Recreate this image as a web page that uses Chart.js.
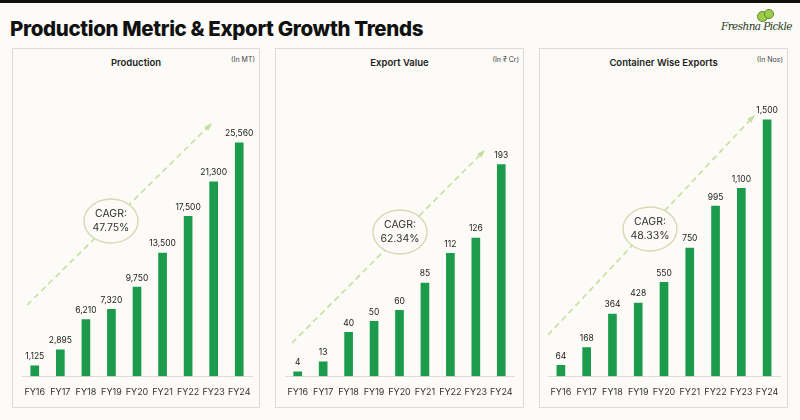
<!DOCTYPE html>
<html>
<head>
<meta charset="utf-8">
<script src="https://cdn.jsdelivr.net/npm/chart.js@4.4.1/dist/chart.umd.min.js"></script>
<style>
  html, body { margin:0; padding:0; }
  body { width:800px; height:420px; background:#fcfbf7; position:relative; overflow:hidden; font-family:Inter, "Noto Sans", sans-serif; }
  .topbar { position:absolute; left:0; top:0; width:800px; height:3px; background:#111; }
  .title { position:absolute; left:10px; top:16px; font-size:20.5px; font-weight:800; color:#111; letter-spacing:-0.35px; }
  .logo { position:absolute; left:721px; top:6px; width:76px; height:40px; }
  .logo .txt { position:absolute; left:0; top:14px; font-family:"DejaVu Serif", serif; font-style:italic; font-size:10.5px; color:#2a3a22; letter-spacing:-0.6px; white-space:nowrap; }
  .logo .c1, .logo .c2 { position:absolute; border-radius:50%; background:#9ccc4a; border:1px solid #5a8a2a; }
  .logo .c1 { left:36px; top:5px; width:9px; height:9px; }
  .logo .c2 { left:43px; top:3px; width:8px; height:8px; }
  .panel { position:absolute; top:48px; height:358px; border:1px solid #dcdcd5; background:#fcfbf7; }
  .panel canvas { position:absolute; left:0; top:0; }
  .ptitle { position:absolute; top:8px; left:0; width:100%; text-align:center; font-size:9.5px; font-weight:600; color:#222; }
  .unit { position:absolute; top:6px; right:4px; font-size:7px; color:#444; }
</style>
</head>
<body>
<div class="topbar"></div>
<div class="title">Production Metric &amp; Export Growth Trends</div>
<div class="logo"><div class="c1"></div><div class="c2"></div><div class="txt">Freshna Pickle</div></div>

<div class="panel" style="left:12px;width:246px;">
  <div class="ptitle">Production</div><div class="unit">(In MT)</div>
  <div style="position:absolute;left:0;top:0;width:246px;height:358px;"><canvas id="c1"></canvas></div>
</div>
<div class="panel" style="left:275px;width:247px;">
  <div class="ptitle">Export Value</div><div class="unit">(In ₹ Cr)</div>
  <div style="position:absolute;left:0;top:0;width:247px;height:358px;"><canvas id="c2"></canvas></div>
</div>
<div class="panel" style="left:539px;width:247px;">
  <div class="ptitle">Container Wise Exports</div><div class="unit">(In Nos)</div>
  <div style="position:absolute;left:0;top:0;width:247px;height:358px;"><canvas id="c3"></canvas></div>
</div>

<script>
// ---- data ----
const years = ["FY16","FY17","FY18","FY19","FY20","FY21","FY22","FY23","FY24"];
const production = [1125, 2895, 6210, 7320, 9750, 13500, 17500, 21300, 25560];
const exportValue = [4, 13, 40, 50, 60, 85, 112, 126, 193];
const containers = [64, 168, 364, 428, 550, 750, 995, 1100, 1500];
const cagrLabels = ["47.75%", "62.34%", "48.33%"];

const barGreen = "#1b9b4b";
const arrowGreen = "#c4e09c";

// value labels above bars
const barValues = {
  id: "barValues",
  afterDatasetsDraw(chart) {
    const ctx = chart.ctx;
    const meta = chart.getDatasetMeta(0);
    const vals = chart.data.datasets[0].data;
    ctx.save();
    ctx.font = "8.5px Inter, sans-serif";
    ctx.fillStyle = "#222";
    ctx.textAlign = "center";
    ctx.textBaseline = "bottom";
    meta.data.forEach((bar, i) => {
      ctx.fillText(vals[i].toLocaleString("en-US"), bar.x, bar.y - 5);
    });
    ctx.restore();
  }
};

// dashed CAGR arrow + bubble
const cagrArrow = {
  id: "cagrArrow",
  beforeDatasetsDraw(chart, args, opts) {
    const ctx = chart.ctx;
    const [x0, y0] = opts.from, [x1, y1] = opts.to;
    ctx.save();
    ctx.strokeStyle = arrowGreen;
    ctx.lineWidth = 1.6;
    ctx.setLineDash([6, 4]);
    ctx.beginPath();
    ctx.moveTo(x0, y0);
    ctx.lineTo(x1, y1);
    ctx.stroke();
    ctx.setLineDash([]);
    const a = Math.atan2(y1 - y0, x1 - x0);
    ctx.fillStyle = arrowGreen;
    ctx.beginPath();
    ctx.moveTo(x1 + 3 * Math.cos(a), y1 + 3 * Math.sin(a));
    ctx.lineTo(x1 - 6 * Math.cos(a - 0.5), y1 - 6 * Math.sin(a - 0.5));
    ctx.lineTo(x1 - 6 * Math.cos(a + 0.5), y1 - 6 * Math.sin(a + 0.5));
    ctx.closePath();
    ctx.fill();
    // bubble
    const [cx, cy] = opts.center;
    ctx.fillStyle = "#fcfbf7";
    ctx.strokeStyle = "#d6dab0";
    ctx.lineWidth = 1.4;
    ctx.beginPath();
    ctx.ellipse(cx, cy, 27, 22, 0, 0, Math.PI * 2);
    ctx.fill();
    ctx.stroke();
    ctx.fillStyle = "#333";
    ctx.font = "10.5px Inter, sans-serif";
    ctx.textAlign = "center";
    ctx.textBaseline = "middle";
    ctx.fillText("CAGR:", cx, cy - 7);
    ctx.fillText(opts.text, cx, cy + 7);
    ctx.restore();
  }
};

function makeChart(id, values, yMax, pad, arrow) {
  new Chart(document.getElementById(id), {
    type: "bar",
    data: {
      labels: years,
      datasets: [{ data: values, backgroundColor: barGreen, barThickness: 8, borderWidth: 0 }]
    },
    options: {
      responsive: true,
      maintainAspectRatio: false,
      animation: false,
      layout: { padding: pad },
      plugins: { legend: { display: false }, tooltip: { enabled: false }, cagrArrow: arrow },
      scales: {
        x: {
          grid: { display: false },
          border: { color: "#dedcd4", width: 1 },
          ticks: { color: "#333", font: { size: 9, family: "Inter, sans-serif" }, padding: 3, maxRotation: 0, autoSkip: false }
        },
        y: { display: false, min: 0, max: yMax }
      }
    },
    plugins: [barValues, cagrArrow]
  });
}

makeChart("c1", production, 31350, { top: 41, left: 9, right: 7, bottom: 6 },
  { from: [14, 256], to: [197, 76], center: [98, 172], text: cagrLabels[0] });
makeChart("c2", exportValue, 261, { top: 41, left: 9, right: 9, bottom: 6 },
  { from: [16, 294], to: [207, 103], center: [124, 183], text: cagrLabels[1] });
makeChart("c3", containers, 1675, { top: 41, left: 8, right: 7, bottom: 6 },
  { from: [8, 286], to: [213, 68], center: [110, 180], text: cagrLabels[2] });
</script>
</body>
</html>
